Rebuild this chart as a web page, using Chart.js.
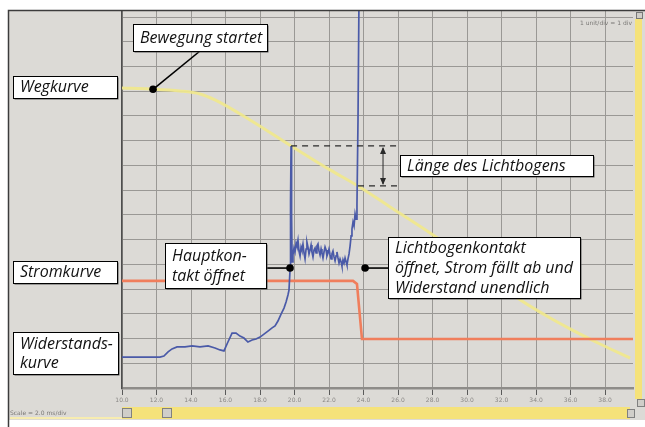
<!DOCTYPE html>
<html>
<head>
<meta charset="utf-8">
<script src="https://cdn.jsdelivr.net/npm/chart.js@4/dist/chart.umd.min.js"></script>
<style>
html, body { margin: 0; padding: 0; background: #fff; }
canvas { display: block; }
</style>
</head>
<body>
<canvas id="c" width="645" height="427"></canvas>
<script>
// Time axis in ms, 2.0 ms per division
const timeTicks = ['10.0','12.0','14.0','16.0','18.0','20.0','22.0','24.0','26.0','28.0','30.0','32.0','34.0','36.0','38.0'];
const timeTickValues = [10,12,14,16,18,20,22,24,26,28,30,32,34,36,38];
const levelTickValues = [0,1,2,3,4,5,6,7,8,9,10,11,12,13,14,15];

// Wegkurve (contact travel)
const travelTime  = [10.00, 11.62, 13.36, 14.52, 15.39, 17.42, 19.80, 22.06, 23.68, 25.54, 27.86, 30.17, 32.84, 34.52, 35.97, 37.71, 39.45];
const travelLevel = [12.13, 12.09, 12.01, 11.89, 11.65, 10.84,  9.79,  8.82,  8.17,  7.32,  6.27,  5.14,  3.68,  2.95,  2.39,  1.78,  1.21];

// Stromkurve (current)
const currentTime  = [10.00, 23.39, 23.62, 23.91, 39.62];
const currentLevel = [ 4.33,  4.33,  4.21,  1.98,  1.98];

// Widerstandskurve (resistance); the last point runs off scale (infinite)
const resistTime = [
  10.00, 11.04, 12.20, 12.43, 12.67, 12.90, 13.19, 13.65, 14.06, 14.52, 14.99, 15.39, 15.68, 15.91,
  16.14, 16.38, 16.61, 16.84, 17.07, 17.30, 17.54, 17.77, 18.00, 18.23, 18.46, 18.70, 18.87, 19.04,
  19.22, 19.39, 19.51, 19.62, 19.68, 19.74, 19.77, 19.80, 19.83,
  19.86, 19.91, 19.97, 20.03, 20.09, 20.14, 20.20, 20.26, 20.32, 20.38, 20.43, 20.49, 20.55, 20.61,
  20.67, 20.72, 20.78, 20.84, 20.90, 20.96, 21.01, 21.07, 21.13, 21.19, 21.25, 21.30, 21.36, 21.42,
  21.48, 21.54, 21.59, 21.65, 21.71, 21.77, 21.83, 21.88, 21.94, 22.00, 22.06, 22.12, 22.17, 22.23,
  22.29, 22.35, 22.41, 22.46, 22.52, 22.58, 22.64, 22.70, 22.75, 22.81, 22.87, 22.93, 22.99, 23.04,
  23.10, 23.16, 23.22, 23.28, 23.33, 23.39, 23.45, 23.51, 23.57, 23.62, 23.68, 23.74
];
const resistLevel = [
   1.25,  1.25,  1.25,  1.29,  1.46,  1.58,  1.66,  1.66,  1.70,  1.66,  1.70,  1.62,  1.54,  1.50,
   1.86,  2.22,  2.22,  2.10,  2.02,  1.86,  1.94,  1.98,  2.06,  2.18,  2.30,  2.43,  2.51,  2.71,
   2.99,  3.23,  3.48,  3.76,  3.96,  4.77,  7.60,  9.79,  7.00,
   5.10,  5.38,  5.66,  5.50,  5.86,  5.74,  5.98,  5.54,  5.34,  5.70,  5.58,  5.82,  5.46,  5.22,
   5.62,  5.90,  5.70,  5.42,  5.58,  5.78,  5.50,  5.30,  5.58,  5.66,  5.46,  5.74,  5.82,  5.54,
   5.38,  5.62,  5.46,  5.26,  5.50,  5.70,  5.58,  5.34,  5.46,  5.62,  5.38,  5.22,  5.42,  5.54,
   5.30,  5.14,  5.34,  5.50,  5.26,  5.05,  5.22,  5.10,  4.93,  5.18,  5.05,  5.26,  5.10,  4.97,
   5.22,  5.42,  5.74,  6.15,  6.43,  6.71,  6.55,  7.04,  6.83,  7.40, 10.84, 16.00
];

// Arc length markers: travel level when the main contact and the arcing contact open
const arcStart = { t: 19.80, level: 9.79 };
const arcEnd   = { t: 23.68, level: 8.17 };

const pts = (xs, ys) => xs.map((x, i) => ({ x, y: ys[i] }));

// ---- layout of the callout boxes (canvas pixels) ----
const boxes = [
  { lines: ['Bewegung startet'], x: 133, y: 24, w: 134, h: 27 },
  { lines: ['Wegkurve'], x: 13, y: 76, w: 104, h: 22 },
  { lines: ['Länge des Lichtbogens'], x: 400, y: 155, w: 193, h: 21 },
  { lines: ['Stromkurve'], x: 13, y: 261, w: 104, h: 22 },
  { lines: ['Hauptkon-', 'takt öffnet'], x: 165, y: 243, w: 101, h: 45, first: 13, step: 20 },
  { lines: ['Lichtbogenkontakt', 'öffnet, Strom fällt ab und', 'Widerstand unendlich'], x: 388, y: 237, w: 192, h: 61, first: 11, step: 20 },
  { lines: ['Widerstands-', 'kurve'], x: 13, y: 332, w: 105, h: 42, first: 12, step: 19 }
];

const BG = '#dcdad6';
const GRID = '#9a9895';
const FONT = 'italic 16px "Open Sans", "Noto Sans", sans-serif';

const framePlugin = {
  id: 'frame',
  beforeDraw(chart) {
    const c = chart.ctx;
    c.save();
    c.fillStyle = '#ffffff';
    c.fillRect(0, 0, chart.width, chart.height);
    c.fillStyle = BG;
    c.fillRect(8, 10, chart.width - 8, 410);
    c.restore();
  },
  afterDraw(chart) {
    const c = chart.ctx;
    const a = chart.chartArea;
    c.save();
    // window border
    c.strokeStyle = '#3c3c3c';
    c.lineWidth = 1.5;
    c.beginPath();
    c.moveTo(8.5, chart.height);
    c.lineTo(8.5, 10.5);
    c.lineTo(chart.width, 10.5);
    c.stroke();
    // vertical scroll bar
    c.fillStyle = '#f5e27a';
    c.fillRect(635, 19, 7, 380);
    c.fillStyle = '#d0cec9';
    c.fillRect(636, 12, 7, 7);
    c.strokeStyle = '#777';
    c.lineWidth = 1;
    c.strokeRect(636.5, 12.5, 6, 6);
    // horizontal scroll bar
    c.fillStyle = '#f5e27a';
    c.fillRect(a.left, 407, 508, 12);
    c.fillStyle = '#f7ecb0';
    c.fillRect(10, 417, a.left - 10, 2);
    c.fillStyle = '#d0cec9';
    c.fillRect(a.left, 408, 10, 10);
    c.fillRect(162, 408, 10, 10);
    c.fillRect(627, 409, 8, 9);
    c.fillRect(637, 399, 8, 8);
    c.strokeStyle = '#808080';
    c.strokeRect(a.left + 0.5, 408.5, 9, 9);
    c.strokeRect(162.5, 408.5, 9, 9);
    c.strokeRect(627.5, 409.5, 7, 8);
    c.strokeRect(637.5, 399.5, 7, 7);
    // small status texts
    c.fillStyle = '#7a7876';
    c.font = '6px "DejaVu Sans", sans-serif';
    c.textBaseline = 'middle';
    c.textAlign = 'left';
    c.fillText('Scale = 2.0 ms/div', 10, 413);
    c.textAlign = 'right';
    c.fillText('1 unit/div = 1 div', 632, 23);
    c.restore();
  }
};

const calloutPlugin = {
  id: 'callouts',
  afterDatasetsDraw(chart) {
    const c = chart.ctx;
    const xs = chart.scales.x, ys = chart.scales.y;
    const px = v => xs.getPixelForValue(v);
    const py = v => ys.getPixelForValue(v);
    c.save();

    // arc length: dashed levels and double arrow
    const xRight = px(25.94);
    const yTop = py(arcStart.level), yBot = py(arcEnd.level);
    c.strokeStyle = '#2a2a2a';
    c.lineWidth = 1.3;
    c.setLineDash([6, 5]);
    c.beginPath();
    c.moveTo(px(arcStart.t), yTop); c.lineTo(xRight, yTop);
    c.moveTo(px(arcEnd.t), yBot); c.lineTo(xRight, yBot);
    c.stroke();
    c.setLineDash([]);
    const xa = px(25.13);
    c.lineWidth = 1;
    c.beginPath();
    c.moveTo(xa, yTop + 2); c.lineTo(xa, yBot - 2);
    c.stroke();
    c.fillStyle = '#2a2a2a';
    c.beginPath();
    c.moveTo(xa, yTop + 1); c.lineTo(xa - 3, yTop + 8); c.lineTo(xa + 3, yTop + 8); c.closePath();
    c.moveTo(xa, yBot - 1); c.lineTo(xa - 3, yBot - 8); c.lineTo(xa + 3, yBot - 8); c.closePath();
    c.fill();

    // leader lines and dots
    const dots = [
      { x: px(11.80), y: py(12.08), fromX: 200, fromY: 51 },
      { x: px(19.74), y: py(4.85), fromX: 266, fromY: py(4.85) },
      { x: px(24.09), y: py(4.85), fromX: 388, fromY: py(4.85) }
    ];
    c.strokeStyle = '#000';
    c.lineWidth = 1.6;
    dots.forEach(d => {
      c.beginPath();
      c.moveTo(d.fromX, d.fromY);
      c.lineTo(d.x, d.y);
      c.stroke();
    });
    c.fillStyle = '#000';
    dots.forEach(d => {
      c.beginPath();
      c.arc(d.x, d.y, 3.8, 0, Math.PI * 2);
      c.fill();
    });

    // text boxes
    c.font = FONT;
    c.textBaseline = 'middle';
    c.textAlign = 'left';
    boxes.forEach(b => {
      c.fillStyle = '#555';
      c.fillRect(b.x + 1.5, b.y + 1.5, b.w, b.h);
      c.fillStyle = '#fff';
      c.fillRect(b.x, b.y, b.w, b.h);
      c.strokeStyle = '#000';
      c.lineWidth = 1;
      c.strokeRect(b.x + 0.5, b.y + 0.5, b.w, b.h);
      c.fillStyle = '#111';
      b.lines.forEach((t, i) => {
        const ty = b.lines.length === 1 ? b.y + b.h / 2 + 0.5 : b.y + b.first + i * b.step;
        c.fillText(t, b.x + 7, ty);
      });
    });
    c.restore();
  }
};

new Chart(document.getElementById('c'), {
  type: 'line',
  data: {
    datasets: [
      {
        label: 'Widerstandskurve',
        data: pts(resistTime, resistLevel),
        borderColor: '#4a5aa8',
        borderWidth: 1.7,
        pointRadius: 0,
        tension: 0,
        order: 1,
        clip: 0
      },
      {
        label: 'Stromkurve',
        data: pts(currentTime, currentLevel),
        borderColor: '#f07e5c',
        borderWidth: 2.6,
        pointRadius: 0,
        tension: 0,
        order: 2,
        clip: 0
      },
      {
        label: 'Wegkurve',
        data: pts(travelTime, travelLevel),
        borderColor: 'rgba(240,232,140,0.92)',
        borderWidth: 3,
        pointRadius: 0,
        cubicInterpolationMode: 'monotone',
        order: 3,
        clip: 0
      }
    ]
  },
  options: {
    responsive: false,
    animation: false,
    events: [],
    layout: { padding: { left: 122, top: 11, right: 12, bottom: 0 } },
    plugins: { legend: { display: false }, tooltip: { enabled: false } },
    scales: {
      x: {
        type: 'linear',
        min: 10,
        max: 39.62,
        afterBuildTicks: s => { s.ticks = timeTickValues.map(v => ({ value: v })); },
        afterFit: s => { s.height = 39; },
        ticks: {
          callback: (v, i) => timeTicks[i],
          font: { size: 6, family: '"DejaVu Sans", sans-serif' },
          color: '#8a8886',
          padding: 2,
          maxRotation: 0,
          autoSkip: false
        },
        grid: { color: GRID, lineWidth: 1, drawTicks: true, tickLength: 7, tickColor: '#5a5a5a' },
        border: { color: '#8e8c89', width: 2.5 }
      },
      y: {
        type: 'linear',
        min: 0,
        max: 15.245,
        afterBuildTicks: s => { s.ticks = levelTickValues.map(v => ({ value: v })); },
        afterFit: s => { s.width = 0; },
        ticks: { display: false },
        grid: { color: GRID, lineWidth: 1, drawTicks: false },
        border: { color: '#4e4e4e', width: 1.5 }
      }
    }
  },
  plugins: [framePlugin, calloutPlugin]
});
</script>
</body>
</html>
